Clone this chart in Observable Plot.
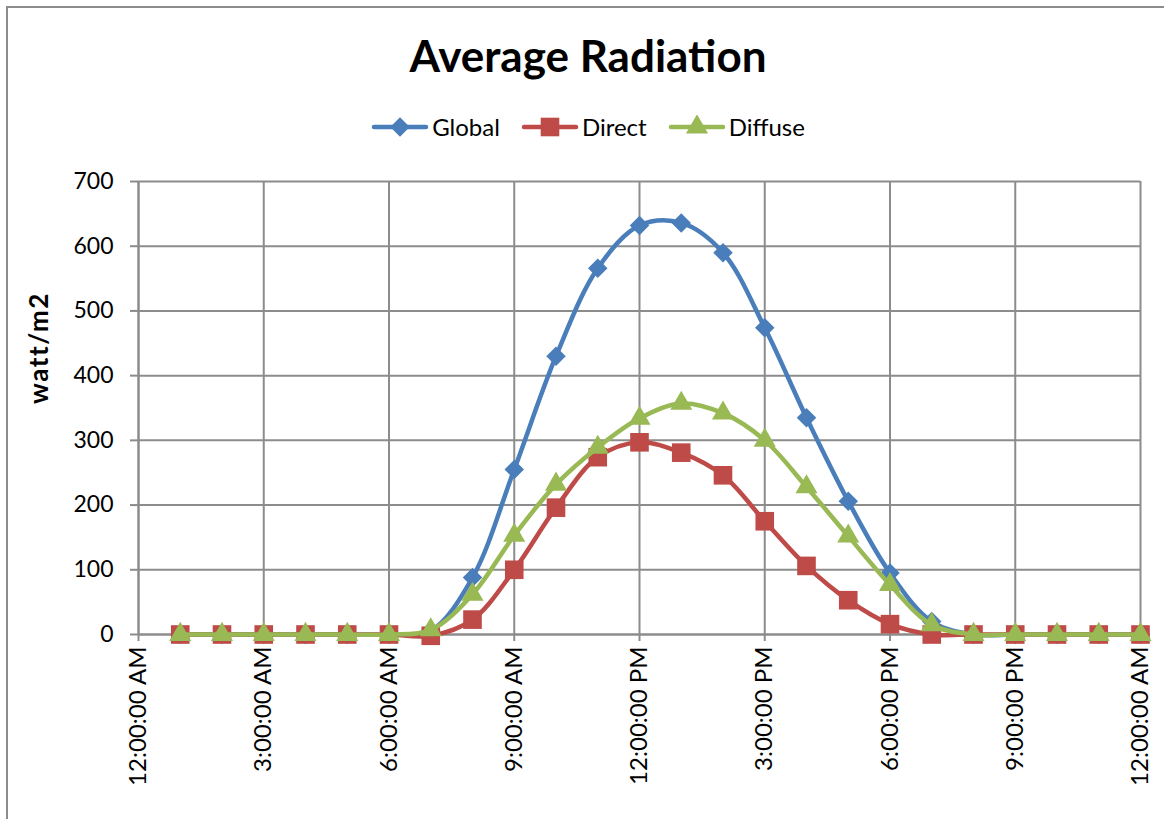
<!DOCTYPE html>
<html>
<head>
<meta charset="utf-8">
<script src="https://cdn.jsdelivr.net/npm/d3@7"></script>
<script src="https://cdn.jsdelivr.net/npm/@observablehq/plot@0.6"></script>
<style>
  html, body { margin: 0; padding: 0; background: #fff; }
  body { width: 1164px; height: 819px; position: relative; overflow: hidden; font-family: Lato, "Open Sans", sans-serif; }
  #frame { position: absolute; left: 6px; top: 6px; width: 1170px; height: 830px; border-left: 2px solid #8c8c8c; border-top: 2px solid #8c8c8c; box-sizing: border-box; }
  #title { position: absolute; left: 0; width: 1176px; top: 29px; text-align: center; font-weight: bold; font-size: 44px; color: #000; }
  #legend { position: absolute; top: 112px; left: 0; width: 1176px; display: flex; justify-content: center; gap: 21px; font-size: 24px; }
  .item { display: flex; align-items: center; gap: 3px; }
  #chart { position: absolute; left: 0; top: 160px; }
  #ylabel { position: absolute; left: 38px; top: 348px; transform: translate(-50%, -50%) rotate(-90deg); font-weight: bold; font-size: 26px; letter-spacing: 1.5px; white-space: nowrap; }
</style>
</head>
<body>
<div id="frame"></div>
<div id="title">Average Radiation</div>
<div id="legend"></div>
<div id="ylabel">watt/m2</div>
<div id="chart"></div>
<script>
// Hours of day (1..24)
const hours = [1,2,3,4,5,6,7,8,9,10,11,12,13,14,15,16,17,18,19,20,21,22,23,24];
const globalVals  = [0,0,0,0,0,0,6,88,255,430,566,632,636,590,474,335,206,95,20,0,0,0,0,0];
const directVals  = [0,0,0,0,0,0,-2,23,100,196,274,297,281,246,175,106,53,16,0,0,0,0,0,0];
const diffuseVals = [0,0,0,0,0,0,7,62,153,232,289,334,357,342,300,228,152,77,15,0,0,0,0,0];
const seriesNames = ["Global","Direct","Diffuse"];
const seriesColors = ["#4A7EBB","#BE4B48","#98B954"];
const seriesSymbols = ["diamond2","square","triangle"];
const seriesR = [8.8, 10.5, 8.2];
const xTicks = [0,3,6,9,12,15,18,21,24];
const xTickLabels = ["12:00:00 AM","3:00:00 AM","6:00:00 AM","9:00:00 AM","12:00:00 PM","3:00:00 PM","6:00:00 PM","9:00:00 PM","12:00:00 AM"];
const yTicks = [0,100,200,300,400,500,600,700];

const allVals = [globalVals, directVals, diffuseVals];
const data = [];
seriesNames.forEach((s, i) => hours.forEach((h, j) => data.push({series: s, hour: h, value: allVals[i][j]})));

const marks = [
  Plot.gridX(xTicks, {stroke: "#8c8c8c", strokeOpacity: 1, strokeWidth: 2}),
  Plot.gridY(yTicks, {stroke: "#8c8c8c", strokeOpacity: 1, strokeWidth: 2}),
  Plot.axisY(yTicks, {tickSize: 8, tickPadding: 17, fontSize: 23, stroke: "#8c8c8c", strokeWidth: 2, label: null, fill: "#000"}),
  Plot.axisX(xTicks, {tickSize: 7, tickPadding: 5, fontSize: 24, tickRotate: -90, stroke: "#8c8c8c", strokeWidth: 2, label: null, fill: "#000",
    tickFormat: d => xTickLabels[xTicks.indexOf(d)]}),
  Plot.ruleY([0], {stroke: "#8c8c8c", strokeWidth: 2}),
  Plot.ruleX([0], {stroke: "#8c8c8c", strokeWidth: 2})
];
seriesNames.forEach((s, i) => {
  const d = data.filter(r => r.series === s);
  marks.push(Plot.line(d, {x: "hour", y: "value", stroke: seriesColors[i], strokeWidth: 4.5, curve: "catmull-rom"}));
  marks.push(Plot.dot(d, {x: "hour", y: "value", symbol: () => seriesSymbols[i], r: seriesR[i], fill: seriesColors[i], stroke: "none"}));
});

const chart = Plot.plot({
  width: 1164,
  height: 659,
  marginTop: 21,
  marginLeft: 138,
  marginRight: 24,
  marginBottom: 185,
  style: {fontFamily: "Lato, 'Open Sans', sans-serif", background: "transparent", overflow: "visible"},
  x: {domain: [0, 24]},
  y: {domain: [0, 700]},
  symbol: {type: "identity"},
  marks
});
document.getElementById("chart").appendChild(chart);

// Legend
const legend = document.getElementById("legend");
seriesNames.forEach((s, i) => {
  const item = document.createElement("div");
  item.className = "item";
  const sym = d3.symbol(d3["symbol" + {diamond2: "Diamond2", square: "Square", triangle: "Triangle"}[seriesSymbols[i]]], Math.PI * seriesR[i] * seriesR[i])();
  item.innerHTML = `<svg width="58" height="24"><line x1="3" x2="55" y1="12" y2="12" stroke="${seriesColors[i]}" stroke-width="4.5" stroke-linecap="round"/><path transform="translate(29,12)" d="${sym}" fill="${seriesColors[i]}"/></svg><span>${s}</span>`;
  legend.appendChild(item);
});
</script>
</body>
</html>
